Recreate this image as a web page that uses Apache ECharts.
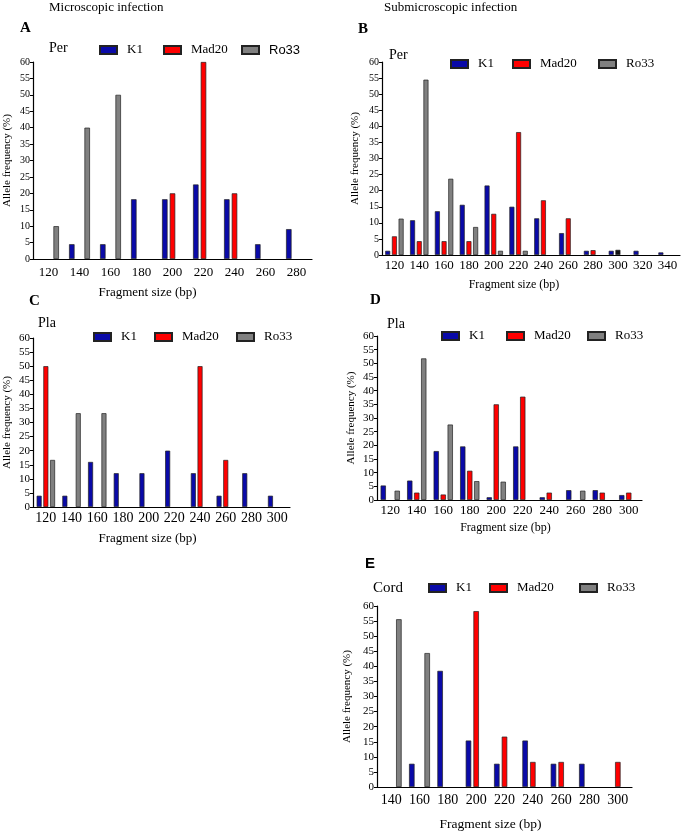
<!DOCTYPE html>
<html>
<head>
<meta charset="utf-8">
<script src="https://cdn.jsdelivr.net/npm/echarts@6/dist/echarts.min.js"></script>
<style>
  html, body { margin: 0; padding: 0; background: #fff; }
  #main { width: 685px; height: 833px; }
</style>
</head>
<body>
<div id="main"></div>
<script>
// A: microscopic infection, Per
const sizesA = ['120', '140', '160', '180', '200', '220', '240', '260', '280']
const k1A = [0, 4.5, 4.5, 18.2, 18.2, 22.7, 18.2, 4.5, 9.1]
const mad20A = [0, 0, 0, 0, 20, 60, 20, 0, 0]
const ro33A = [10, 40, 50, 0, 0, 0, 0, 0, 0]

// B: submicroscopic infection, Per
const sizesB = ['120', '140', '160', '180', '200', '220', '240', '260', '280', '300', '320', '340']
const k1B = [1.3, 10.8, 13.6, 15.6, 21.6, 15.0, 11.4, 6.8, 1.3, 1.3, 1.3, 0.8]
const mad20B = [5.8, 4.3, 4.3, 4.3, 12.8, 38.2, 17.0, 11.4, 1.5, 1.6, 0, 0]
const ro33B = [11.3, 54.5, 23.7, 8.7, 1.3, 1.3, 0, 0, 0, 0, 0, 0]

// C: microscopic infection, Pla
const sizesC = ['120', '140', '160', '180', '200', '220', '240', '260', '280', '300']
const k1C = [4, 4, 16, 12, 12, 20, 12, 4, 12, 4]
const mad20C = [50, 0, 0, 0, 0, 0, 50, 16.7, 0, 0]
const ro33C = [16.7, 33.3, 33.3, 0, 0, 0, 0, 0, 0, 0]

// D: submicroscopic infection, Pla
const sizesD = ['120', '140', '160', '180', '200', '220', '240', '260', '280', '300']
const k1D = [5.3, 7.1, 17.9, 19.6, 1.0, 19.6, 1.0, 3.6, 3.6, 1.8]
const mad20D = [0, 2.7, 2.0, 10.7, 35.0, 37.8, 2.7, 0, 2.7, 2.7]
const ro33D = [3.4, 51.8, 27.6, 6.9, 6.7, 0, 0, 3.4, 0, 0]

// E: Cord
const sizesE = ['140', '160', '180', '200', '220', '240', '260', '280', '300']
const k1E = [0, 7.7, 38.5, 15.4, 7.7, 15.4, 7.7, 7.7, 0]
const mad20E = [0, 0, 0, 58.3, 16.7, 8.3, 8.3, 0, 8.3]
const ro33E = [55.6, 44.4, 0, 0, 0, 0, 0, 0, 0]

const serif = '"Liberation Serif", "Times New Roman", serif'
const sans = '"Liberation Sans", Arial, sans-serif'
const colors = { K1: '#0a0aa8', Mad20: '#ff0000', Ro33: '#808080' }

const panels = [
  { sizes: sizesA, vals: { K1: k1A, Mad20: mad20A, Ro33: ro33A },
    left: 33, top: 62, right: 312, bottom: 259, barWidth: 5.5, barGap: '40%',
    xFont: 13, yFont: 10, xMargin: 7, xNameGap: 27, xNameShift: -25, xNameFont: 13, yNameGap: 20,
    legend: [99, 163, 241], legendY: 50, roFont: sans },
  { sizes: sizesB, vals: { K1: k1B, Mad20: mad20B, Ro33: ro33B },
    left: 382, top: 62, right: 680, bottom: 255, barWidth: 5, barGap: '34%',
    xFont: 13, yFont: 10, xMargin: 4, xNameGap: 24, xNameShift: -17, xNameFont: 12, yNameGap: 21,
    legend: [450, 512, 598], legendY: 64, roFont: serif,
    oddBar: { name: 'Mad20', index: 9, color: '#111' } },
  { sizes: sizesC, vals: { K1: k1C, Mad20: mad20C, Ro33: ro33C },
    left: 33, top: 338, right: 290, bottom: 507, barWidth: 5, barGap: '34%',
    xFont: 14, yFont: 11, xMargin: 4, xNameGap: 25, xNameShift: -14, xNameFont: 13, yNameGap: 20,
    legend: [93, 154, 236], legendY: 337, roFont: serif },
  { sizes: sizesD, vals: { K1: k1D, Mad20: mad20D, Ro33: ro33D },
    left: 377, top: 336, right: 642, bottom: 500, barWidth: 5.3, barGap: '32%',
    xFont: 13, yFont: 11, xMargin: 4, xNameGap: 22, xNameShift: -4, xNameFont: 12, yNameGap: 20,
    legend: [441, 506, 587], legendY: 336, roFont: serif },
  { sizes: sizesE, vals: { K1: k1E, Mad20: mad20E, Ro33: ro33E },
    left: 377, top: 606, right: 632, bottom: 787, barWidth: 5.5, barGap: '40%',
    xFont: 14, yFont: 11, xMargin: 6, xNameGap: 30, xNameShift: -14, xNameFont: 13.5, yNameGap: 24,
    legend: [428, 489, 579], legendY: 588, roFont: serif }
]

const grid = [], xAxis = [], yAxis = [], series = [], legend = []

panels.forEach((p, i) => {
  grid.push({ left: p.left, top: p.top, width: p.right - p.left, height: p.bottom - p.top,
    outerBoundsMode: 'none', containLabel: false })
  xAxis.push({
    type: 'category', gridIndex: i, data: p.sizes, boundaryGap: true,
    axisLine: { lineStyle: { color: '#000', width: 1.2 } },
    axisTick: { alignWithLabel: true, length: 4, lineStyle: { color: '#000' } },
    axisLabel: { color: '#000', fontFamily: serif, fontSize: p.xFont, margin: p.xMargin, interval: 0 },
    splitLine: { show: false },
    name: 'Fragment size (bp)', nameLocation: 'middle', nameGap: p.xNameGap,
    nameTextStyle: { color: '#000', fontFamily: serif, fontSize: p.xNameFont,
      padding: p.xNameShift < 0 ? [0, -2 * p.xNameShift, 0, 0] : [0, 0, 0, 2 * p.xNameShift] }
  })
  yAxis.push({
    type: 'value', gridIndex: i, min: 0, max: 60, interval: 5,
    axisLine: { show: true, lineStyle: { color: '#000', width: 1.2 } },
    axisTick: { show: true, length: 3, lineStyle: { color: '#000' } },
    axisLabel: { color: '#000', fontFamily: serif, fontSize: p.yFont, margin: 3 },
    splitLine: { show: false },
    name: 'Allele frequency (%)', nameLocation: 'middle', nameGap: p.yNameGap,
    nameTextStyle: { color: '#000', fontFamily: serif, fontSize: 11 }
  })
  ;['K1', 'Mad20', 'Ro33'].forEach(name => {
    const data = p.vals[name].map((v, j) => {
      if (!v) return '-'
      if (p.oddBar && p.oddBar.name === name && p.oddBar.index === j) {
        return { value: v, itemStyle: { color: p.oddBar.color } }
      }
      return v
    })
    series.push({
      type: 'bar', name, xAxisIndex: i, yAxisIndex: i, data,
      barWidth: p.barWidth, barGap: p.barGap,
      itemStyle: { color: colors[name], borderColor: '#222', borderWidth: 0.7 },
      emphasis: { disabled: true }
    })
  })
  ;['K1', 'Mad20', 'Ro33'].forEach((name, k) => {
    legend.push({
      data: [name], left: p.legend[k], top: p.legendY - 8, padding: 0,
      icon: 'rect', itemWidth: 17, itemHeight: 8, selectedMode: false,
      textStyle: { color: '#000', fontSize: 13, lineHeight: 16, padding: [0, 0, 0, 5],
        fontFamily: name === 'Ro33' ? p.roFont : serif }
    })
  })
})

function txt(text, x, y, size, font, bold) {
  return { type: 'text', left: x, top: y - size / 2 + 1,
    style: { text, fill: '#000', fontSize: size, fontFamily: font, fontWeight: bold ? 'bold' : 'normal' } }
}

const graphic = [
  txt('Microscopic infection', 49, 7, 13, serif),
  txt('Submicroscopic infection', 384, 7, 13, serif),
  txt('A', 20, 27, 15, serif, true),
  txt('B', 358, 28, 15, serif, true),
  txt('C', 29, 300, 15, serif, true),
  txt('D', 370, 299, 15, serif, true),
  txt('E', 365, 563, 15, sans, true),
  txt('Per', 49, 47, 14, serif),
  txt('Per', 389, 54, 14, serif),
  txt('Pla', 38, 322, 14, serif),
  txt('Pla', 387, 323, 14, serif),
  txt('Cord', 373, 587, 15, serif)
]

const chart = echarts.init(document.getElementById('main'))
chart.setOption({
  animation: false,
  backgroundColor: '#fff',
  grid, xAxis, yAxis, series, legend, graphic
})
</script>
</body>
</html>
